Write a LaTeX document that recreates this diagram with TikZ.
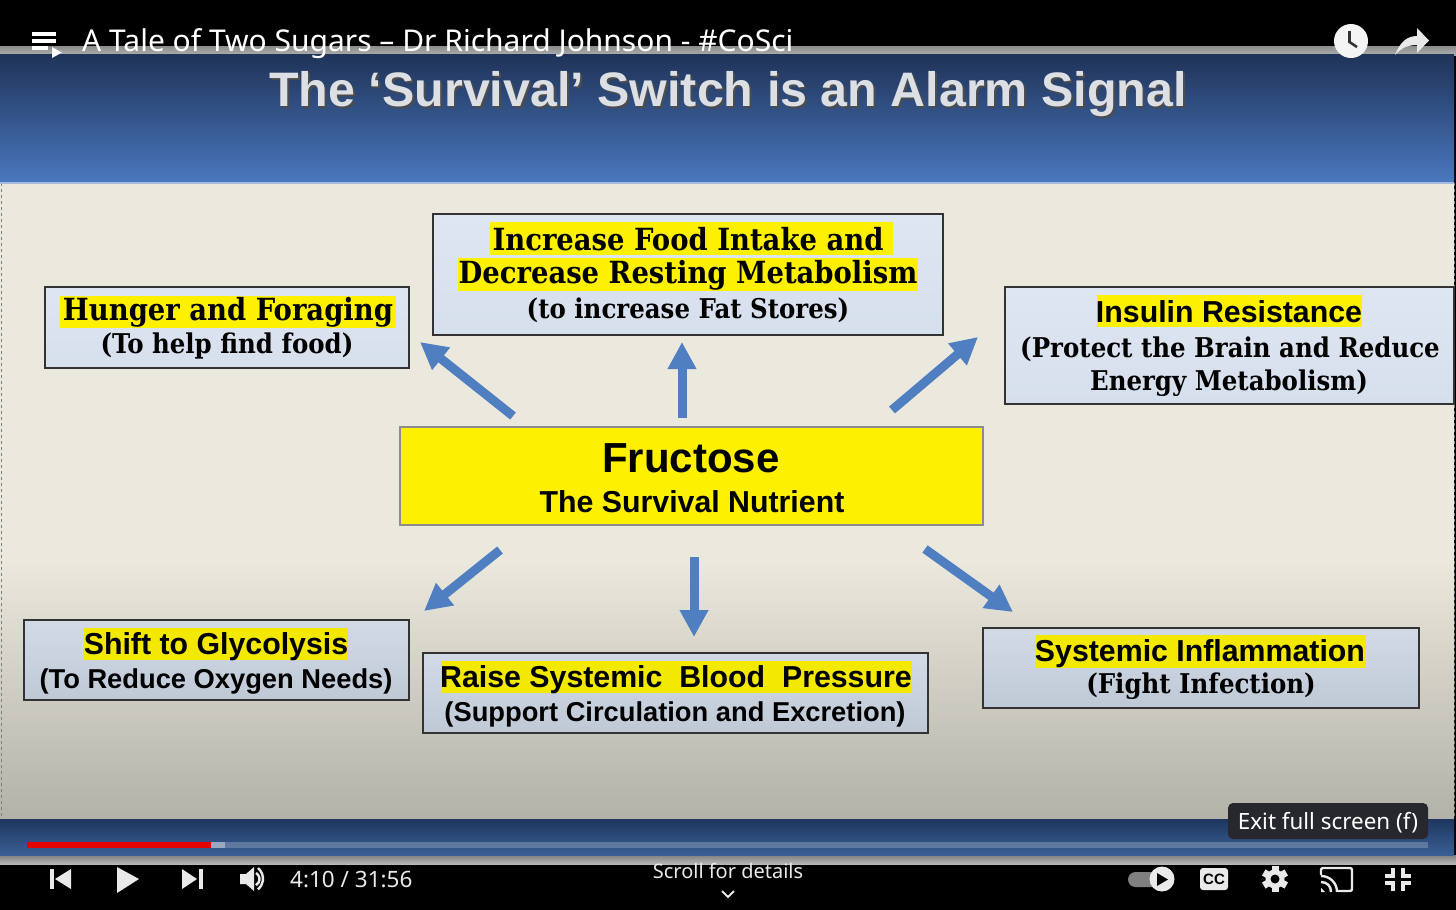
\documentclass[tikz,border=0pt]{standalone}
\usepackage{fontspec}
\setmainfont{Liberation Serif}
\newfontfamily\serifw{DejaVu Serif Condensed}
\newfontfamily\sansf{Liberation Sans}
\newfontfamily\uif{Noto Sans}
\usetikzlibrary{arrows.meta}
\newcommand{\fsz}[1]{\fontsize{#1pt}{#1pt}\selectfont}
\definecolor{arrowblue}{HTML}{4F7FC0}
\definecolor{hl}{HTML}{FDF000}
\definecolor{hlb}{HTML}{F2E800}
\definecolor{chrome}{HTML}{E9E9E9}
\definecolor{HeadTop}{HTML}{1F3358}
\definecolor{HeadBot}{HTML}{4A78BF}
\definecolor{SlideTop}{HTML}{EBE8DD}
\definecolor{SlideBot}{HTML}{B3B2A8}
\definecolor{BandA}{HTML}{1E3660}
\definecolor{BandB}{HTML}{3A5F94}
\definecolor{TitleText}{HTML}{DCDFE3}
\definecolor{TipFill}{HTML}{26282E}
\definecolor{BoxTop}{HTML}{DEE6F1}
\definecolor{BoxBot}{HTML}{D6DFEC}
\definecolor{LowTop}{HTML}{D2DAE6}
\definecolor{LowBot}{HTML}{BFC9D6}
\tikzset{
  x=1pt,y=-1pt,
  box/.style={draw=black!80,line width=1.4pt,top color=BoxTop,bottom color=BoxBot,inner sep=0pt},
  lowbox/.style={draw=black!80,line width=1.4pt,top color=LowTop,bottom color=LowBot,inner sep=0pt},
  serifa/.style={font=\fsz{30.5}\serifw\bfseries,text=black,inner sep=0pt,anchor=center,yshift=-1pt},
  serifc/.style={font=\fsz{27.2}\serifw\bfseries,text=black,inner sep=0pt,anchor=center,yshift=-1pt},
  sansb/.style={font=\fsz{30.3}\sansf\bfseries,text=black,inner sep=0pt,anchor=center,yshift=-3pt},
  sansc/.style={font=\fsz{27.3}\sansf\bfseries,text=black,inner sep=0pt,anchor=center,yshift=-3pt},
  flowarrow/.style={draw=arrowblue,line width=9pt,-{Triangle[length=27pt,width=27pt]}},
  uitext/.style={font=\fsz{22}\uif,text=chrome,inner sep=0pt},
  icon/.style={fill=chrome,draw=none},
}
\begin{document}
\begin{tikzpicture}
\useasboundingbox (0,0) rectangle (1456,910);
% backgrounds
\fill[black] (0,0) rectangle (1456,910);
\fill[top color=black!45!white,bottom color=black!32!white] (0,46) rectangle (1456,55);
\fill[top color=black!50!white,bottom color=black!28!white] (0,855) rectangle (1456,864);
\fill[top color=HeadTop,bottom color=HeadBot] (0,54) rectangle (1454,183);
\fill[SlideTop] (0,183) rectangle (1454,560);
\fill[top color=SlideTop,bottom color=SlideBot] (0,560) rectangle (1454,819);
\fill[top color=BandA,bottom color=BandB] (0,819) rectangle (1454,855);
\draw[gray,dashed,line width=1pt] (1,183) -- (1,818);
\draw[gray,dashed,line width=1pt] (1454,183) -- (1454,818);
\fill[HeadBot!50!white] (0,182) rectangle (1454,184);
% title
\node[font=\fsz{48.4}\sansf\bfseries,text=black!70,inner sep=0pt] at (730,96) {The ‘Survival’ Switch is an Alarm Signal};
\node[font=\fsz{48.4}\sansf\bfseries,text=TitleText,inner sep=0pt] (title) at (728,94) {The ‘Survival’ Switch is an Alarm Signal};
% boxes
\node[box,minimum width=364pt,minimum height=81pt] (hunger) at (227,327.5) {};
\node[box,minimum width=510pt,minimum height=121pt] (food) at (688,274.5) {};
\node[box,minimum width=449pt,minimum height=117pt] (insulin) at (1229.5,345.5) {};
\node[draw=black!45,line width=1.2pt,fill=hl,minimum width=583pt,minimum height=98pt,inner sep=0pt] (fru) at (691.5,476) {};
\node[lowbox,minimum width=385pt,minimum height=80pt] (shift) at (216.5,660) {};
\node[lowbox,minimum width=505pt,minimum height=80pt] (raise) at (675.5,693) {};
\node[lowbox,minimum width=436pt,minimum height=80pt] (sys) at (1201,668) {};
% highlights
\fill[hl] (60,296) rectangle (396,328);
\fill[hl] (490,222) rectangle (893,255);
\fill[hl] (458,258) rectangle (918,291);
\fill[hl] (1097,295) rectangle (1362,327);
\fill[hlb] (84,628) rectangle (348,660);
\fill[hlb] (441,661) rectangle (912,693);
\fill[hlb] (1036,635) rectangle (1366,668);
% box texts
\node[serifa] (t1) at (228,311) {Hunger and Foraging};
\node[serifc] (t2) at (227,345) {(To help find food)};
\node[serifa] (t3) at (688,238) {Increase Food Intake and};
\node[serifa] (t4) at (688,274) {Decrease Resting Metabolism};
\node[serifc] (t5) at (688,309) {(to increase Fat Stores)};
\node[sansb] (t6) at (1229,309) {Insulin Resistance};
\node[serifc] (t7) at (1230,348) {(Protect the Brain and Reduce};
\node[serifc] (t8) at (1229,382) {Energy Metabolism)};
\node[font=\fsz{42}\sansf\bfseries,inner sep=0pt] (t9) at (691,458) {Fructose};
\node[sansb] (t10) at (692,499) {The Survival Nutrient};
\node[sansb] (t11) at (216,644) {Shift to Glycolysis};
\node[sansc] (t12) at (216,678) {(To Reduce Oxygen Needs)};
\node[sansb] (t13) at (676,677) {Raise Systemic\ \ Blood\ \ Pressure};
\node[sansc] (t14) at (675,711) {(Support Circulation and Excretion)};
\node[sansb] (t15) at (1200,651) {Systemic Inflammation};
\node[serifc] (t16) at (1201,685) {(Fight Infection)};
% arrows
\coordinate (a1s) at (513,416); \coordinate (a1e) at (420,342);
\coordinate (a2s) at (682,418); \coordinate (a2e) at (682,342);
\coordinate (a3s) at (892,410); \coordinate (a3e) at (978,337);
\coordinate (a4s) at (500,550); \coordinate (a4e) at (424,611);
\coordinate (a5s) at (694,557); \coordinate (a5e) at (694,637);
\coordinate (a6s) at (925,549); \coordinate (a6e) at (1013,612);
\draw[flowarrow] (a1s) -- (a1e);
\draw[flowarrow] (a2s) -- (a2e);
\draw[flowarrow] (a3s) -- (a3e);
\draw[flowarrow] (a4s) -- (a4e);
\draw[flowarrow] (a5s) -- (a5e);
\draw[flowarrow] (a6s) -- (a6e);
% progress bar
\fill[white,opacity=.22] (225,842) rectangle (1428,848);
\fill[white,opacity=.5] (211,842) rectangle (225,848);
\fill[red!90!black] (27,842) rectangle (211,848);
% tooltip
\node[fill=TipFill,rounded corners=5pt,minimum width=200pt,minimum height=36pt,inner sep=0pt] (tip) at (1328,821) {};
\node[uitext,text=white,font=\fsz{22.4}\uif] (tiptext) at (1328,823) {Exit full screen (f)};
% top bar
\node[font=\fsz{30}\uif,text=white,inner sep=0pt,anchor=west] (vt) at (82,44) {A Tale of Two Sugars – Dr Richard Johnson - \#CoSci};
\fill[white] (32,32) rectangle (56,35.5);
\fill[white] (32,39) rectangle (56,42.5);
\fill[white] (32,46) rectangle (48,49.5);
\fill[white] (52,47) -- (62,52.5) -- (52,58) -- cycle;
\fill[chrome!50!white] (1351,41) circle (17);
\draw[black!80,line width=2.6pt] (1349.5,31) -- (1349.5,42) -- (1357,47);
\fill[chrome] (1395,55) .. controls (1400,42) and (1407,36) .. (1417,36) -- (1417,28) -- (1429,40.5) -- (1417,53) -- (1417,45) .. controls (1408,45) and (1401,48) .. (1395,55) -- cycle;
% bottom controls
\fill[icon] (50,869) rectangle (54,889);
\fill[icon] (71,869) -- (71,889) -- (55,879) -- cycle;
\fill[icon] (117,867) -- (117,893) -- (139,879) -- cycle;
\fill[icon] (182,869) -- (182,889) -- (197,879) -- cycle;
\fill[icon] (199,869) rectangle (203,889);
\fill[icon] (240,874) -- (246,874) -- (254,867) -- (254,891) -- (246,884) -- (240,884) -- cycle;
\draw[chrome,line width=2.4pt] (256,873) arc (-60:60:7);
\draw[chrome,line width=2.4pt] (258,868) arc (-50:50:14);
\node[uitext,font=\fsz{22.5}\uif,anchor=west] (time) at (290,879) {4:10 / 31:56};
\node[uitext,font=\fsz{20}\uif] (scroll) at (728,871) {Scroll for details};
\draw[chrome,line width=2pt] (722,891) -- (728,897) -- (734,891);
% toggle
\fill[black!50!white,rounded corners=7.5pt] (1128,872) rectangle (1162,887);
\fill[chrome] (1162,879) circle (12.5);
\fill[black] (1157,873) -- (1157,886) -- (1168,879.5) -- cycle;
% CC
\fill[chrome,rounded corners=3pt] (1200,868) rectangle (1228,890);
\node[font=\fsz{15}\sansf\bfseries,text=black,inner sep=0pt] (cc) at (1214,879) {CC};
% gear
\fill[chrome] (1275,879) circle (9.5);
\foreach \a in {0,60,...,300}
  \fill[chrome,rotate around={\a:(1275,879)}] (1271.5,866) rectangle (1278.5,872);
\fill[black] (1275,879) circle (4.5);
% cast
\draw[chrome,line width=2.4pt,rounded corners=2pt] (1321,875) -- (1321,868) -- (1352,868) -- (1352,891) -- (1338,891);
\fill[chrome] (1321,888) -- (1325,892) -- (1321,892) -- cycle;
\draw[chrome,line width=2.4pt] (1321,882) .. controls (1327,882) and (1331,886) .. (1331,892);
\draw[chrome,line width=2.4pt] (1321,876) .. controls (1330,876) and (1337,883) .. (1337,892);
% exit fullscreen
\draw[chrome,line width=3.2pt] (1393,868) -- (1393,876) -- (1385,876);
\draw[chrome,line width=3.2pt] (1403,868) -- (1403,876) -- (1411,876);
\draw[chrome,line width=3.2pt] (1393,891) -- (1393,883) -- (1385,883);
\draw[chrome,line width=3.2pt] (1403,891) -- (1403,883) -- (1411,883);
\end{tikzpicture}
\end{document}
